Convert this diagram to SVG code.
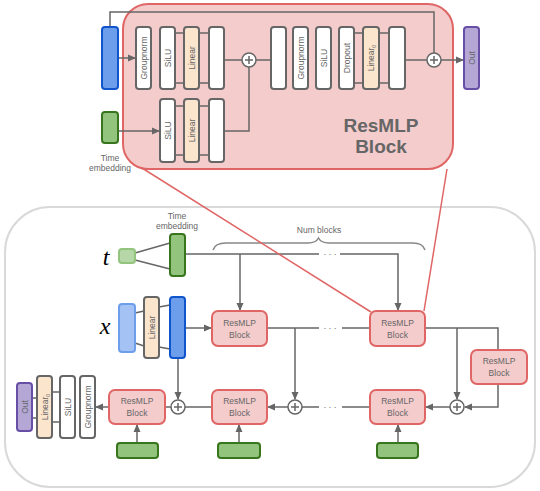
<svg xmlns="http://www.w3.org/2000/svg" width="540" height="491" viewBox="0 0 540 491">
<defs>
<marker id="ah" markerWidth="8" markerHeight="8" refX="7" refY="4" orient="auto" markerUnits="userSpaceOnUse">
<path d="M0,0.5 L8,4 L0,7.5 Z" fill="#666"/>
</marker>
<style>
.ln{stroke:#666;stroke-width:1.5;fill:none}
.wb{fill:#fff;stroke:#666;stroke-width:2}
.lb{fill:#fce5cd;stroke:#666;stroke-width:2}
.bl{fill:#6d9eeb;stroke:#1155cc;stroke-width:2}
.gr{fill:#93c47d;stroke:#38761d;stroke-width:2}
.pu{fill:#b4a7d6;stroke:#674ea7;stroke-width:2}
.rb{fill:#f4cccc;stroke:#e06666;stroke-width:2}
.pl{fill:#fff;stroke:#666;stroke-width:1.5}
.t{font-family:"Liberation Sans",Arial,sans-serif;font-size:8.5px;fill:#666;text-anchor:middle}
.rl{stroke:#e06666;stroke-width:1.5;fill:none}
</style>
</defs>

<!-- Outer containers -->
<rect id="resmlp-detail" x="123" y="4" width="330" height="165" rx="25" fill="#f4cccc" stroke="#e06666" stroke-width="2"/>
<rect id="model-frame" x="5" y="207" width="530" height="280" rx="45" fill="#fff" stroke="#d9d9d9" stroke-width="2"/>

<!-- Connectors -->
<g id="connectors">
<path class="ln" d="M110,27 V12 H434 V53"/>
<path class="ln" d="M118,58 H135" marker-end="url(#ah)"/>
<path class="ln" d="M118,131 H159" marker-end="url(#ah)"/>
<path class="ln" d="M175,33 H184 M175,83 H184 M199,33 H209 M199,83 H209"/>
<path class="ln" d="M175,106 H184 M175,155 H184 M199,106 H209 M199,155 H209"/>
<path class="ln" d="M224,60 H242 M256,60 H271"/>
<path class="ln" d="M224,131 H249 V67"/>
<path class="ln" d="M354,33 H363 M354,83 H363 M379,33 H389 M379,83 H389"/>
<path class="ln" d="M405,60 H427"/>
<path class="ln" d="M441,60 H463" marker-end="url(#ah)"/>

<path class="ln" d="M135,253 L170,243 M135,260 L170,269"/>
<path class="ln" d="M135,313 L144,311 M135,343 L144,346 M159,307 L170,305 M159,347 L170,349"/>
<path class="ln" d="M185,254 H319 M340,254 H398 V310" marker-end="url(#ah)"/>
<path class="ln" d="M240,254 V310" marker-end="url(#ah)"/>
<path d="M213,250 Q215,243 226,243 H308 Q316,243 318.5,238 Q321,243 329,243 H413 Q423,243 425,250" fill="none" stroke="#888" stroke-width="1.5"/>
<path class="ln" d="M185,328 H211" marker-end="url(#ah)"/>
<path class="ln" d="M267,328 H319 M342,328 H370"/>
<path class="ln" d="M295,328 V399" marker-end="url(#ah)"/>
<path class="ln" d="M425,328 H498 V350"/>
<path class="ln" d="M457,328 V399" marker-end="url(#ah)"/>
<path class="ln" d="M498,384 V407 H465" marker-end="url(#ah)"/>
<path class="ln" d="M450,407 H426" marker-end="url(#ah)"/>
<path class="ln" d="M370,407 H342 M319,407 H302"/>
<path class="ln" d="M288,407 H268" marker-end="url(#ah)"/>
<path class="ln" d="M212,407 H185"/>
<path class="ln" d="M178,358 V399" marker-end="url(#ah)"/>
<path class="ln" d="M171,407 H165"/>
<path class="ln" d="M109,407 H96" marker-end="url(#ah)"/>
<path class="ln" d="M398,443 V425" marker-end="url(#ah)"/>
<path class="ln" d="M239,443 V425" marker-end="url(#ah)"/>
<path class="ln" d="M137,443 V425" marker-end="url(#ah)"/>
<path class="ln" d="M52,392 H60 M52,422 H60 M32,398 H37 M32,418 H37"/>
</g>

<!-- Detail block nodes -->
<g id="in-x"><rect class="bl" x="102" y="27" width="16" height="62" rx="3"/></g>
<g id="in-t"><rect class="gr" x="102" y="112" width="16" height="31" rx="3"/>
<text class="t" x="110" y="161" font-size="8">Time</text><text class="t" x="110" y="171" font-size="8">embedding</text></g>
<g id="d-gn1"><rect class="wb" x="136" y="27" width="15" height="62" rx="3"/><text class="t" transform="translate(146.5,58) rotate(-90)">Groupnorm</text></g>
<g id="d-silu1"><rect class="wb" x="160" y="27" width="15" height="62" rx="3"/><text class="t" transform="translate(170.5,58) rotate(-90)">SiLU</text></g>
<g id="d-lin1"><rect class="lb" x="184" y="27" width="15" height="62" rx="3"/><text class="t" transform="translate(194.5,58) rotate(-90)">Linear</text></g>
<g id="d-w1"><rect class="wb" x="209" y="27" width="15" height="62" rx="3"/></g>
<g id="d-silu2"><rect class="wb" x="160" y="99" width="15" height="63" rx="3"/><text class="t" transform="translate(170.5,130.5) rotate(-90)">SiLU</text></g>
<g id="d-lin2"><rect class="lb" x="184" y="99" width="15" height="63" rx="3"/><text class="t" transform="translate(194.5,130.5) rotate(-90)">Linear</text></g>
<g id="d-w2"><rect class="wb" x="209" y="99" width="15" height="63" rx="3"/></g>
<g id="d-plus1"><circle class="pl" cx="249" cy="60" r="7"/><path class="ln" d="M245,60 H253 M249,56 V64" stroke-width="1"/></g>
<g id="d-w3"><rect class="wb" x="271" y="27" width="15" height="62" rx="3"/></g>
<g id="d-gn2"><rect class="wb" x="293" y="27" width="15" height="62" rx="3"/><text class="t" transform="translate(303.5,58) rotate(-90)">Groupnorm</text></g>
<g id="d-silu3"><rect class="wb" x="316" y="27" width="15" height="62" rx="3"/><text class="t" transform="translate(326.5,58) rotate(-90)">SiLU</text></g>
<g id="d-drop"><rect class="wb" x="339" y="27" width="15" height="62" rx="3"/><text class="t" transform="translate(349.5,58) rotate(-90)">Dropout</text></g>
<g id="d-lin0"><rect class="lb" x="363" y="27" width="16" height="62" rx="3"/><text class="t" transform="translate(373.5,58) rotate(-90)">Linear<tspan font-size="5.5" dy="2">0</tspan></text></g>
<g id="d-w4"><rect class="wb" x="389" y="27" width="16" height="62" rx="3"/></g>
<g id="d-plus2"><circle class="pl" cx="434" cy="60" r="7"/><path class="ln" d="M430,60 H438 M434,56 V64" stroke-width="1"/></g>
<g id="d-out"><rect class="pu" x="464" y="27" width="15" height="62" rx="3"/><text class="t" transform="translate(474.5,58) rotate(-90)">Out</text></g>
<g id="d-title"><text x="381" y="132" font-family="Liberation Sans,Arial,sans-serif" font-size="19" font-weight="bold" fill="#666" text-anchor="middle">ResMLP</text>
<text x="381" y="153" font-family="Liberation Sans,Arial,sans-serif" font-size="19" font-weight="bold" fill="#666" text-anchor="middle">Block</text></g>

<!-- Model nodes -->
<g id="sym-t"><text x="106" y="265" font-family="Liberation Serif,serif" font-style="italic" font-size="24" fill="#000" text-anchor="middle">t</text></g>
<g id="sym-x"><text x="105" y="334" font-family="Liberation Serif,serif" font-style="italic" font-size="24" fill="#000" text-anchor="middle">x</text></g>
<g id="t-in"><rect x="119" y="249" width="16" height="14" rx="3" fill="#b6d7a8" stroke="#93c47d" stroke-width="2"/></g>
<g id="t-emb"><rect class="gr" x="170" y="234" width="15" height="42" rx="3"/>
<text class="t" x="177" y="219" font-size="8">Time</text><text class="t" x="177" y="229" font-size="8">embedding</text></g>
<g id="num-blocks"><text class="t" x="319" y="233" font-size="8" fill="#777">Num blocks</text></g>
<g id="dots1"><text class="t" x="330" y="257">· · ·</text></g>
<g id="dots2"><text class="t" x="330" y="331">· · ·</text></g>
<g id="dots3"><text class="t" x="330" y="410">· · ·</text></g>
<g id="x-in"><rect x="119" y="304" width="16" height="48" rx="3" fill="#a4c2f4" stroke="#6d9eeb" stroke-width="2"/></g>
<g id="x-lin"><rect class="lb" x="144" y="297" width="15" height="61" rx="3"/><text class="t" transform="translate(154.5,327.5) rotate(-90)">Linear</text></g>
<g id="x-emb"><rect class="bl" x="170" y="297" width="15" height="61" rx="3"/></g>
<g id="blk1"><rect class="rb" x="212" y="311" width="55" height="35" rx="6"/><text class="t" x="239.5" y="326">ResMLP</text><text class="t" x="239.5" y="338">Block</text></g>
<g id="blk2"><rect class="rb" x="370" y="311" width="55" height="35" rx="6"/><text class="t" x="397.5" y="326">ResMLP</text><text class="t" x="397.5" y="338">Block</text></g>
<g id="blk-mid"><rect class="rb" x="471" y="350" width="56" height="34" rx="6"/><text class="t" x="499" y="364">ResMLP</text><text class="t" x="499" y="376">Block</text></g>
<g id="blk3"><rect class="rb" x="370" y="390" width="55" height="34" rx="6"/><text class="t" x="397.5" y="404">ResMLP</text><text class="t" x="397.5" y="416">Block</text></g>
<g id="blk4"><rect class="rb" x="212" y="390" width="55" height="34" rx="6"/><text class="t" x="239.5" y="404">ResMLP</text><text class="t" x="239.5" y="416">Block</text></g>
<g id="blk5"><rect class="rb" x="109" y="390" width="56" height="34" rx="6"/><text class="t" x="137" y="404">ResMLP</text><text class="t" x="137" y="416">Block</text></g>
<g id="g3"><rect class="gr" x="377" y="443" width="41" height="15" rx="3"/></g>
<g id="g4"><rect class="gr" x="218" y="443" width="42" height="15" rx="3"/></g>
<g id="g5"><rect class="gr" x="117" y="443" width="41" height="15" rx="3"/></g>
<g id="p1"><circle class="pl" cx="178" cy="407" r="7"/><path class="ln" d="M174,407 H182 M178,403 V411" stroke-width="1"/></g>
<g id="p2"><circle class="pl" cx="295" cy="407" r="7"/><path class="ln" d="M291,407 H299 M295,403 V411" stroke-width="1"/></g>
<g id="p3"><circle class="pl" cx="457" cy="407" r="7"/><path class="ln" d="M453,407 H461 M457,403 V411" stroke-width="1"/></g>
<g id="o-gn"><rect class="wb" x="80" y="376" width="15" height="62" rx="3"/><text class="t" transform="translate(90.5,407) rotate(-90)">Groupnorm</text></g>
<g id="o-silu"><rect class="wb" x="60" y="376" width="15" height="62" rx="3"/><text class="t" transform="translate(70.5,407) rotate(-90)">SiLU</text></g>
<g id="o-lin0"><rect class="lb" x="37" y="376" width="15" height="62" rx="3"/><text class="t" transform="translate(47.5,407) rotate(-90)">Linear<tspan font-size="5.5" dy="2">0</tspan></text></g>
<g id="o-out"><rect class="pu" x="17" y="383" width="15" height="48" rx="3"/><text class="t" transform="translate(27.5,407) rotate(-90)">Out</text></g>

<!-- Zoom lines -->
<g id="zoom-lines"><path class="rl" d="M142,168 L371,312 M447,169 L424,311"/></g>
</svg>
